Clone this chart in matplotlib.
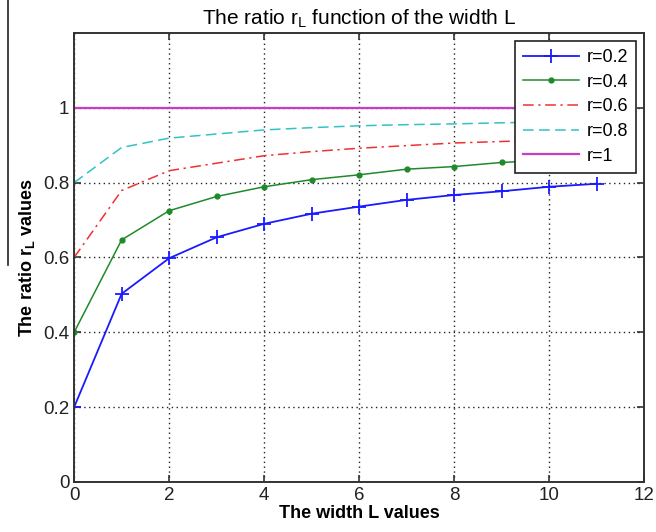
import matplotlib
matplotlib.use("Agg")
import matplotlib.pyplot as plt
from matplotlib.lines import Line2D

plt.rcParams["font.family"] = ["Liberation Sans", "DejaVu Sans"]

# width L values
L = [0, 1, 2, 3, 4, 5, 6, 7, 8, 9, 10, 11]
# ratio r_L, one list per r
r02 = [0.2, 0.503, 0.598, 0.654, 0.690, 0.717, 0.736, 0.754, 0.767, 0.777, 0.789, 0.797]
r04 = [0.4, 0.647, 0.725, 0.763, 0.789, 0.808, 0.821, 0.836, 0.843, 0.854, 0.860, 0.866]
r06 = [0.6, 0.779, 0.832, 0.852, 0.872, 0.883, 0.892, 0.899, 0.906, 0.910, 0.914, 0.918]
r08 = [0.8, 0.894, 0.919, 0.930, 0.941, 0.947, 0.952, 0.955, 0.957, 0.960, 0.962, 0.964]
r10 = [1.0, 1.0, 1.0, 1.0, 1.0, 1.0, 1.0, 1.0, 1.0, 1.0, 1.0, 1.0]
labels = ["r=0.2", "r=0.4", "r=0.6", "r=0.8", "r=1"]

xticks = [0, 2, 4, 6, 8, 10, 12]
yticks = [0, 0.2, 0.4, 0.6, 0.8, 1]
ytick_labels = ["0", "0.2", "0.4", "0.6", "0.8", "1"]

fig = plt.figure(figsize=(6.56, 5.32), dpi=100)
ax = fig.add_axes([0.113, 0.094, 0.869, 0.844])

ax.plot(L, r02, "-", color="#1a1aff", marker="+", ms=10, mew=1.3, lw=1.3, label=labels[0])
ax.plot(L, r04, "-", color="#1f8a2a", marker=".", ms=7, lw=1.1, label=labels[1])
ax.plot(L, r06, color="#f03030", ls=(0, (7, 3, 1.5, 3)), lw=1.1, label=labels[2])
ax.plot(L, r08, color="#30c4c4", ls=(0, (7, 3.5)), lw=1.1, label=labels[3])
ax.plot(L, r10, "-", color="#c83cc8", lw=1.6, label=labels[4])

ax.set_xlim(0, 12)
ax.set_ylim(0, 1.2)
ax.set_xticks(xticks)
ax.set_yticks(yticks)
ax.set_yticklabels(ytick_labels)
ax.tick_params(direction="in", top=True, right=True, length=5, width=1.2,
               labelsize=13.5, colors="#333333", labelcolor="#222222")
ax.grid(True, color="#222222", ls=(0, (1, 2.5)), lw=1.0)
for sp in ax.spines.values():
    sp.set_linewidth(1.4)
    sp.set_color("#333333")

ax.set_title("The ratio r$_\\mathregular{L}$ function of the width L", fontsize=15, pad=6)
ax.set_xlabel("The width L values", fontsize=13, fontweight="bold", labelpad=1)
ax.set_ylabel("The ratio r$_\\mathregular{L}$ values", fontsize=13, fontweight="bold", labelpad=4)

leg = ax.legend(loc="upper right", bbox_to_anchor=(0.986, 0.982), borderaxespad=0,
                fancybox=False, framealpha=1, edgecolor="#222222", fontsize=13,
                handlelength=3.1, labelspacing=0.42, borderpad=0.45, handletextpad=0.4)
leg.get_frame().set_linewidth(1.2)

# stray scan edge on the left of the picture
fig.add_artist(Line2D([8 / 656, 8 / 656], [1.0, 1 - 265 / 532], transform=fig.transFigure,
                      color="#222222", lw=1.2))

fig.savefig("out.png", dpi=100)
